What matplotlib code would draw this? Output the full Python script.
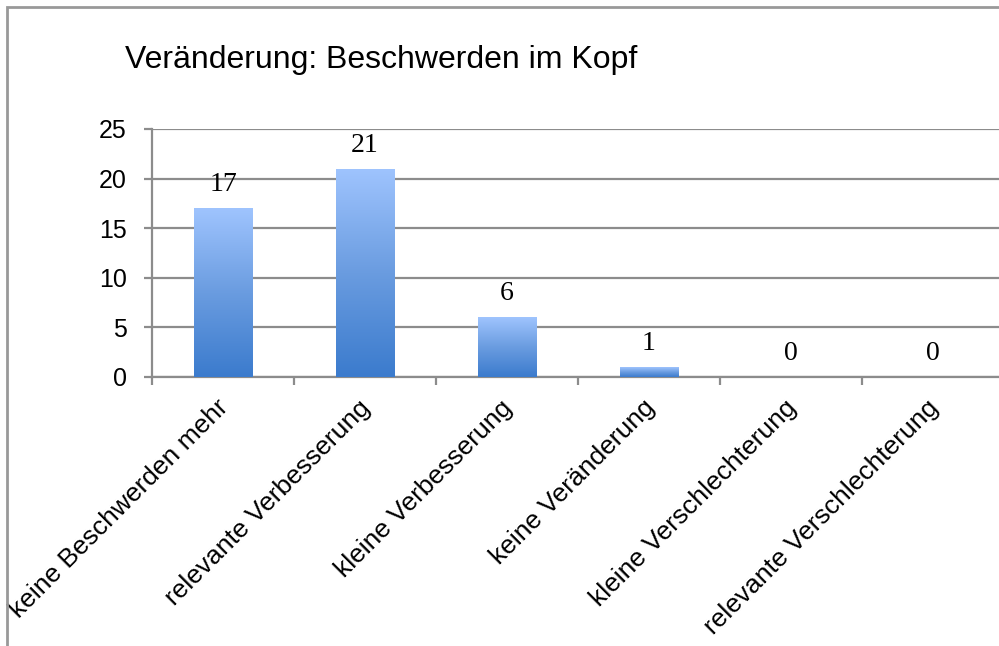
import matplotlib
matplotlib.use('Agg')
import matplotlib.pyplot as plt
import matplotlib.transforms as mtransforms
import numpy as np
from matplotlib.patches import Rectangle
from matplotlib.colors import LinearSegmentedColormap

categories = ["keine Beschwerden mehr", "relevante Verbesserung", "kleine Verbesserung",
              "keine Veränderung", "kleine Verschlechterung", "relevante Verschlechterung"]
values = [17, 21, 6, 1, 0, 0]
yticks = [0, 5, 10, 15, 20, 25]
title = "Veränderung: Beschwerden im Kopf"

W, H = 999, 646
fig = plt.figure(figsize=(W / 100, H / 100), dpi=100)
fig.patch.set_facecolor('white')

ax = fig.add_axes([152 / W, 1 - 377 / H, 852 / W, 248 / H])
x = np.arange(len(categories))
bars = ax.bar(x, values, width=0.41, color='none', edgecolor='none', zorder=3)
cmap = LinearSegmentedColormap.from_list('g', ['#3b7bcd', '#6a9ce0', '#9fc4fe'])
grad = np.linspace(0, 1, 256).reshape(-1, 1)
for b in bars:
    h = b.get_height()
    if h <= 0:
        continue
    x0, w = b.get_x(), b.get_width()
    im = ax.imshow(grad, cmap=cmap, origin='lower', aspect='auto',
                   extent=[x0, x0 + w, 0, h], zorder=3, interpolation='bilinear')
    im.set_clip_path(b)

ax.set_xlim(-0.5, len(categories) - 0.5)
ax.set_ylim(0, 25)
ax.set_aspect('auto')

grid_c = '#8c8c8c'
ax.set_yticks(yticks)
ax.yaxis.grid(True, color=grid_c, lw=1.6, zorder=0)
ax.set_axisbelow(True)
for s in ['top', 'right']:
    ax.spines[s].set_visible(False)
for s in ['left', 'bottom']:
    ax.spines[s].set_color(grid_c)
    ax.spines[s].set_linewidth(1.6)
ax.tick_params(axis='y', length=6, width=1.6, color=grid_c, pad=12,
               labelsize=18, labelcolor='black')
ax.set_yticklabels([str(t) for t in yticks], family='Liberation Sans')
ax.set_xticks(np.arange(-0.5, len(categories), 1))
ax.set_xticklabels([])
ax.tick_params(axis='x', length=6, width=1.6, color=grid_c)

lab_tr = mtransforms.offset_copy(ax.get_xaxis_transform(), fig=fig, x=2, y=-27, units='dots')
for i, c in enumerate(categories):
    ax.text(i, 0, c, transform=lab_tr, rotation=45, rotation_mode='anchor',
            ha='right', va='center', fontsize=19, family='Liberation Sans')

for i, v in enumerate(values):
    ax.annotate(str(v), (i, v), xytext=(0, 17 * 72 / 100), textcoords='offset points',
                ha='center', va='baseline', fontsize=20, family='Liberation Serif')

fig.text(125 / W, 1 - 68 / H, title, fontsize=23, family='Liberation Sans',
         ha='left', va='baseline')

fig.add_artist(Rectangle((6.5 / W, -0.1), 1.2, (H - 6.5) / H + 0.1,
                         transform=fig.transFigure, fill=False, ec='#999999', lw=2))

fig.savefig('out.png', dpi=100)
